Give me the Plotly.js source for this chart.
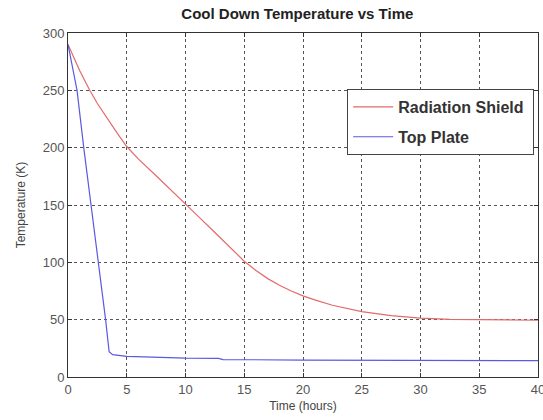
<!DOCTYPE html>
<html>
<head>
<meta charset="utf-8">
<script src="https://cdn.plot.ly/plotly-3.0.1.min.js"></script>
<style>
html,body{margin:0;padding:0;background:#fff;}
#chart{width:543px;height:420px;}
</style>
</head>
<body>
<div id="chart"></div>
<script>
// Radiation Shield
var shieldTime = [0, 0.5, 1, 1.5, 1.85, 2.5, 3.3, 4.2, 5, 6, 7.5, 9, 10, 11, 12.5, 14, 15, 16, 17, 18, 19, 20, 21, 22.5, 24, 25, 27.5, 30, 32.5, 35, 37.5, 40];
var shieldTemp = [290, 278, 267, 257, 250, 238.5, 226, 212.5, 201, 190, 175.5, 161, 151, 141, 126, 110.5, 101, 92.8, 85.8, 80, 75, 70.8, 67.2, 62.6, 59, 57, 53.5, 51.3, 50.3, 50, 49.7, 49.5];
// Top Plate
var plateTime = [0, 0.77, 1.34, 1.96, 2.6, 3.2, 3.5, 3.8, 5, 8, 10, 12.8, 13.2, 20, 30, 40];
var plateTemp = [290, 250, 200, 150, 100, 50, 22, 19.5, 18, 17, 16.5, 16.3, 15.2, 14.8, 14.5, 14.3];

var xTicks = [0, 5, 10, 15, 20, 25, 30, 35, 40];
var yTicks = [0, 50, 100, 150, 200, 250, 300];

var traces = [
  {x: shieldTime, y: shieldTemp, type: 'scatter', mode: 'lines', name: 'Radiation Shield\u00a0',
   legendgroup: 'a', line: {color: '#e36a6a', width: 1.2}},
  {x: plateTime, y: plateTemp, type: 'scatter', mode: 'lines', name: 'Top Plate',
   legendgroup: 'b', line: {color: '#5a5ae0', width: 1.2}}
];

var axisCommon = {
  showline: true, mirror: 'ticks', linecolor: '#333', linewidth: 1,
  ticks: 'inside', ticklen: 4, tickcolor: '#333',
  showgrid: true, gridcolor: '#555', griddash: 'dot', gridwidth: 1,
  zeroline: false, ticklabeloverflow: 'allow',
  tickfont: {family: 'Liberation Sans, Arial, sans-serif', size: 13, color: '#555'}
};

var layout = {
  width: 543, height: 420,
  margin: {l: 68, r: 5, t: 33, b: 43},
  paper_bgcolor: '#fff', plot_bgcolor: '#fff',
  title: {text: '<b>Cool Down Temperature vs Time</b>', xref: 'paper', x: 0.488, xanchor: 'center', y: 0.967, yanchor: 'middle',
          font: {family: 'Liberation Sans, Arial, sans-serif', size: 15, color: '#222'}},
  xaxis: Object.assign({}, axisCommon, {
    range: [0, 40], tickvals: xTicks, ticktext: xTicks.map(String),
    title: {text: 'Time (hours)', standoff: 6, font: {family: 'Liberation Sans, Arial, sans-serif', size: 12, color: '#444'}}
  }),
  yaxis: Object.assign({}, axisCommon, {
    range: [0, 300], tickvals: yTicks, ticktext: yTicks.map(String),
    title: {text: 'Temperature (K)', standoff: 14, font: {family: 'Liberation Sans, Arial, sans-serif', size: 12, color: '#444'}}
  }),
  legend: {
    x: 0.594, y: 0.837, xanchor: 'left', yanchor: 'top',
    bgcolor: '#fff', bordercolor: '#444', borderwidth: 1,
    traceorder: 'grouped', tracegroupgap: 6, itemwidth: 40,
    font: {family: 'Liberation Sans, Arial, sans-serif', size: 16, color: '#333', weight: 'bold'}
  },
  showlegend: true
};

Plotly.newPlot('chart', traces, layout, {staticPlot: true, displayModeBar: false});
</script>
</body>
</html>
